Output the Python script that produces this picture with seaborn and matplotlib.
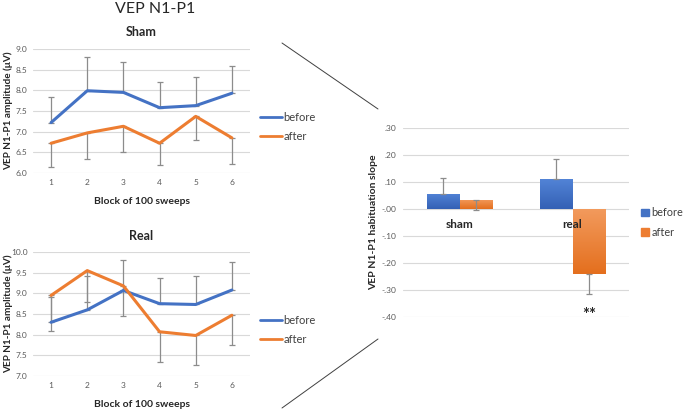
import numpy as np
import pandas as pd
import matplotlib
matplotlib.use('Agg')
import matplotlib.pyplot as plt
from matplotlib.lines import Line2D
from matplotlib.patches import Patch
from matplotlib.colors import LinearSegmentedColormap, to_hex
import seaborn as sns

sns.set_theme(style='white')
plt.rcParams['font.family'] = ['Lato', 'DejaVu Sans']

blocks = [1, 2, 3, 4, 5, 6]

sham_before = [7.22, 7.99, 7.95, 7.58, 7.63, 7.93]
sham_after = [6.72, 6.97, 7.13, 6.72, 7.37, 6.85]
sham_before_err = [0.63, 0.81, 0.74, 0.62, 0.69, 0.65]
sham_after_err = [0.57, 0.62, 0.63, 0.52, 0.57, 0.63]

real_before = [8.30, 8.60, 9.07, 8.75, 8.73, 9.08]
real_after = [8.95, 9.55, 9.18, 8.07, 7.98, 8.47]
real_before_err = [0.62, 0.82, 0.73, 0.62, 0.69, 0.67]
real_after_err = [0.85, 0.75, 0.73, 0.72, 0.71, 0.72]

groups = ['sham', 'real']
slope_before = [0.057, 0.110]
slope_after = [0.035, -0.240]
slope_before_err = [0.058, 0.077]
slope_after_err = [0.040, 0.075]

BLUE = '#4472C4'
ORANGE = '#ED7D31'
GRID = '#D9D9D9'
ERR = '#8C8C8C'
TICK = '#595959'
TXT = '#262626'

fig = plt.figure(figsize=(6.85, 4.11), dpi=100)
W, H = 685, 411


def px_axes(left, top, right, bottom):
    return fig.add_axes([left / W, 1 - bottom / H, (right - left) / W, (bottom - top) / H])


def line_panel(ax, before, after, b_err, a_err, ylim, title):
    df = pd.DataFrame({'block': blocks * 2,
                       'amp': before + after,
                       'cond': ['before'] * 6 + ['after'] * 6})
    # one-sided error bars: before goes up, after goes down
    ax.errorbar(blocks, before, yerr=[np.zeros(6), b_err], fmt='none',
                ecolor=ERR, elinewidth=0.9, capsize=2.5, capthick=0.9, zorder=2)
    ax.errorbar(blocks, after, yerr=[a_err, np.zeros(6)], fmt='none',
                ecolor=ERR, elinewidth=0.9, capsize=2.5, capthick=0.9, zorder=2)
    sns.lineplot(data=df, x='block', y='amp', hue='cond', palette=[BLUE, ORANGE],
                 linewidth=2.2, ax=ax, legend=False, zorder=3)
    ax.set_xlim(0.5, 6.5)
    ax.set_ylim(*ylim)
    ticks = np.arange(ylim[0], ylim[1] + 0.01, 0.5)
    ax.set_yticks(ticks)
    ax.set_yticklabels(['%.1f' % v for v in ticks])
    ax.set_xticks(blocks)
    ax.grid(axis='y', color=GRID, linewidth=0.8)
    ax.set_axisbelow(True)
    for s in ax.spines.values():
        s.set_visible(False)
    ax.tick_params(axis='both', labelsize=6, colors=TICK, length=0, pad=4)
    ax.set_xlabel('Block of 100 sweeps', fontsize=7.5, fontweight='bold', color=TXT)
    ax.xaxis.set_label_coords(0.5, -0.19)
    ax.set_ylabel('VEP N1-P1 amplitude (\u03bcV)', fontsize=7.2, fontweight='bold', color=TXT)
    ax.yaxis.set_label_coords(-0.09, 0.5)
    ax.set_title(title, fontsize=9, fontweight='bold', color=TXT, pad=9)
    handles = [Line2D([], [], color=BLUE, lw=2), Line2D([], [], color=ORANGE, lw=2)]
    ax.legend(handles, ['before', 'after'], loc='center left', bbox_to_anchor=(1.0, 0.37),
              frameon=False, fontsize=8, handlelength=2.0, handletextpad=0.1,
              labelspacing=0.7, labelcolor='#404040')


ax1 = px_axes(33, 49, 250, 173)
line_panel(ax1, sham_before, sham_after, sham_before_err, sham_after_err, (6.0, 9.0), 'Sham')

ax2 = px_axes(33, 252, 250, 376)
line_panel(ax2, real_before, real_after, real_before_err, real_after_err, (7.0, 10.0), 'Real')

fig.text(155 / W, 1 - 9 / H, 'VEP N1-P1', ha='center', va='center', fontsize=11.5, color=TXT)

# slope bar chart
ax3 = px_axes(403, 128, 629, 317)
bars = pd.DataFrame({'group': groups * 2,
                     'slope': slope_before + slope_after,
                     'cond': ['before'] * 2 + ['after'] * 2})
sns.barplot(data=bars, x='group', y='slope', hue='cond', palette=[BLUE, ORANGE],
            width=0.58, saturation=1, errorbar=None, ax=ax3, legend=False, zorder=3,
            edgecolor='none')
yt = np.round(np.arange(-0.4, 0.31, 0.1), 2)
ax3.set_yticks(yt)
ax3.set_yticklabels([('%.2f' % v).replace('0.', '.') for v in yt])
ax3.grid(axis='y', color=GRID, linewidth=0.8)
ax3.set_axisbelow(True)
for s in ax3.spines.values():
    s.set_visible(False)
ax3.tick_params(axis='y', labelsize=6, colors=TICK, length=0, pad=5)
ax3.set_xticks([])
ax3.set_xlabel('')
ax3.set_ylabel('VEP N1-P1 habituation slope', fontsize=7.5, fontweight='bold', color=TXT)
ax3.yaxis.set_label_coords(-0.11, 0.5)

# soft vertical gradient on the bars
shades = {BLUE.lower(): ('#3461B5', '#5283D6'), ORANGE.lower(): ('#E46F1E', '#F29A5C')}
patches = list(ax3.patches)
for p in patches:
    dark, light = shades[to_hex(p.get_facecolor()).lower()]
    cmap = LinearSegmentedColormap.from_list('g', [dark, light])
    x0, y0, w, h = p.get_x(), p.get_y(), p.get_width(), p.get_height()
    grad = np.linspace(0, 1, 64).reshape(-1, 1)
    im = ax3.imshow(grad, cmap=cmap, aspect='auto', origin='lower',
                    extent=(x0, x0 + w, min(y0, y0 + h), max(y0, y0 + h)), zorder=3.5)
    im.set_clip_path(p)
ax3.set_xlim(-0.5, 1.5)
ax3.set_ylim(-0.4, 0.3)

b_x = [p.get_x() + p.get_width() / 2 for p in patches[:2]]
a_x = [p.get_x() + p.get_width() / 2 for p in patches[2:4]]
ax3.errorbar(b_x, slope_before, yerr=[np.zeros(2), slope_before_err], fmt='none',
             ecolor=ERR, elinewidth=0.9, capsize=2.5, capthick=0.9, zorder=4)
ax3.errorbar(a_x, slope_after, yerr=[slope_after_err, np.zeros(2)], fmt='none',
             ecolor=ERR, elinewidth=0.9, capsize=2.5, capthick=0.9, zorder=4)
for i, g in enumerate(groups):
    ax3.annotate(g, (i, 0), xytext=(0, -15), textcoords='offset pixels',
                 ha='center', va='center', fontsize=8.5, fontweight='bold', color=TXT, zorder=6)
ax3.text(a_x[1], -0.392, '**', ha='center', va='center', fontsize=12, fontweight='bold', color=TXT)

handles = [Patch(color=BLUE), Patch(color=ORANGE)]
ax3.legend(handles, ['before', 'after'], loc='center left', bbox_to_anchor=(1.01, 0.5),
           frameon=False, fontsize=7.8, handlelength=0.7, handleheight=0.7,
           handletextpad=0.25, labelspacing=0.75, labelcolor='#404040')

# connector lines
fig.add_artist(Line2D([282 / W, 378 / W], [1 - 43 / H, 1 - 109 / H], color='#404040', lw=0.7))
fig.add_artist(Line2D([282 / W, 378 / W], [1 - 408 / H, 1 - 339 / H], color='#404040', lw=0.7))

fig.savefig('out.png', dpi=100)
